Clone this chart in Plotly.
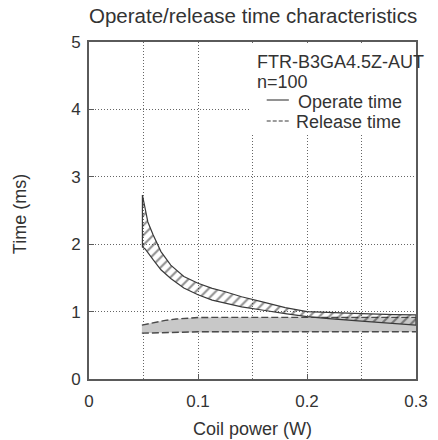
import plotly.graph_objects as go

# ---- data ----
x_op = [0.049, 0.0515, 0.054, 0.0588, 0.066, 0.075, 0.087, 0.100, 0.113, 0.125, 0.140, 0.160, 0.170, 0.180, 0.200, 0.220, 0.250, 0.280, 0.300]
op_upper = [2.73, 2.53, 2.33, 2.14, 1.89, 1.69, 1.52, 1.42, 1.345, 1.295, 1.22, 1.14, 1.10, 1.06, 1.00, 0.985, 0.97, 0.955, 0.95]
op_lower = [1.96, 1.93, 1.87, 1.77, 1.62, 1.49, 1.35, 1.25, 1.17, 1.12, 1.07, 1.02, 0.99, 0.97, 0.925, 0.895, 0.86, 0.82, 0.80]

x_rel = [0.0485, 0.060, 0.070, 0.080, 0.090, 0.100, 0.120, 0.150, 0.200, 0.250, 0.300]
rel_upper = [0.80, 0.84, 0.87, 0.89, 0.905, 0.912, 0.915, 0.915, 0.915, 0.915, 0.915]
rel_lower = [0.68, 0.685, 0.69, 0.695, 0.70, 0.70, 0.70, 0.70, 0.70, 0.70, 0.70]

x_ticks = [0, 0.1, 0.2, 0.3]
y_ticks = [0, 1, 2, 3, 4, 5]

title_text = "Operate/release time characteristics"
x_title = "Coil power (W)"
y_title = "Time (ms)"
model_text = "FTR-B3GA4.5Z-AUT"
n_text = "n=100"
legend_names = ["Operate time", "Release time"]

FONT = "Liberation Sans, Arial, sans-serif"
TXT = "#333333"
LINE = "#3a3a3a"
DASH = "#4a4a4a"
GRID = "#666666"

L, R, T, B = 88.5, 10, 42, 61
WID, HEI = 438, 440

fig = go.Figure()

# release band (gray)
fig.add_trace(go.Scatter(
    x=x_rel + x_rel[::-1], y=rel_upper + rel_lower[::-1],
    fill="toself", fillcolor="#c8c8c8", line=dict(width=0),
    mode="lines", showlegend=False, hoverinfo="skip"))
fig.add_trace(go.Scatter(x=x_rel, y=rel_upper, mode="lines",
                         line=dict(color=DASH, width=1.4, dash="7px,3px"), showlegend=False))
fig.add_trace(go.Scatter(x=x_rel, y=rel_lower, mode="lines",
                         line=dict(color=DASH, width=1.4, dash="7px,3px"), showlegend=False))

# operate band (hatched)
fig.add_trace(go.Scatter(
    x=x_op + x_op[::-1] + [x_op[0]], y=op_upper + op_lower[::-1] + [op_upper[0]],
    fill="toself", fillcolor="rgba(0,0,0,0)",
    fillpattern=dict(shape="/", size=7, solidity=0.3, fgcolor="#222222", bgcolor="rgba(0,0,0,0)"),
    line=dict(color=LINE, width=1.2), mode="lines", showlegend=False))

axis_common = dict(
    showline=True, mirror=True, linecolor="#5a5a5a", linewidth=1.6,
    ticks="inside", ticklen=5, tickcolor="#5a5a5a",
    gridcolor=GRID, griddash="1px,2px", gridwidth=1,
    tickfont=dict(family=FONT, size=17, color=TXT), zeroline=False,
)

fig.update_xaxes(range=[0, 0.3], tickvals=x_ticks, ticktext=[f"{v:g}" for v in x_ticks],
                 showgrid=True, ticklabelstandoff=6,
                 minor=dict(dtick=0.05, tick0=0, showgrid=True, gridcolor=GRID,
                            griddash="1px,2px", ticks=""),
                 **axis_common)
fig.update_yaxes(range=[0, 5], tickvals=y_ticks, showgrid=True, ticklabelstandoff=3, **axis_common)

W = WID - L - R
H = HEI - T - B
def px(xp):
    return (xp - L) / W
def py(yp):
    return 1 - (yp - T) / H

def txt(text, xp, yp, anchor="left", size=18, angle=0):
    return dict(text=text, x=px(xp), y=py(yp), xref="paper", yref="paper", showarrow=False,
                xanchor=anchor, yanchor="middle", textangle=angle,
                font=dict(family=FONT, size=size, color=TXT))

ann = [
    txt(title_text, L + W / 2, 15, anchor="center", size=20.5),
    txt(x_title, L + W / 2, 429, anchor="center", size=18),
    txt(y_title, 17, 214, anchor="center", size=18, angle=-90),
    txt(model_text, 260.5, 62, anchor="left", size=18),
    txt(n_text, 260.5, 82, anchor="left", size=18),
    txt(legend_names[0], 303.5, 102, anchor="left", size=18),
    txt(legend_names[1], 301, 122, anchor="left", size=18),
]

fig.update_layout(
    width=WID, height=HEI,
    margin=dict(l=L, r=R, t=T, b=B),
    paper_bgcolor="white", plot_bgcolor="white",
    showlegend=False,
    annotations=ann,
)

# white key box hiding the grid behind the key
fig.add_shape(type="rect", xref="paper", yref="paper", x0=px(255), x1=px(426.5), y0=py(134), y1=py(43),
              fillcolor="white", line=dict(width=0), layer="above")
# legend key samples
fig.add_shape(type="line", xref="paper", yref="paper", x0=px(273), x1=px(296), y0=py(100), y1=py(100),
              line=dict(color=LINE, width=1.1))
fig.add_shape(type="line", xref="paper", yref="paper", x0=px(273), x1=px(297), y0=py(121), y1=py(121),
              line=dict(color=LINE, width=1.1, dash="4px,2px"))

fig.write_html("out.html")
